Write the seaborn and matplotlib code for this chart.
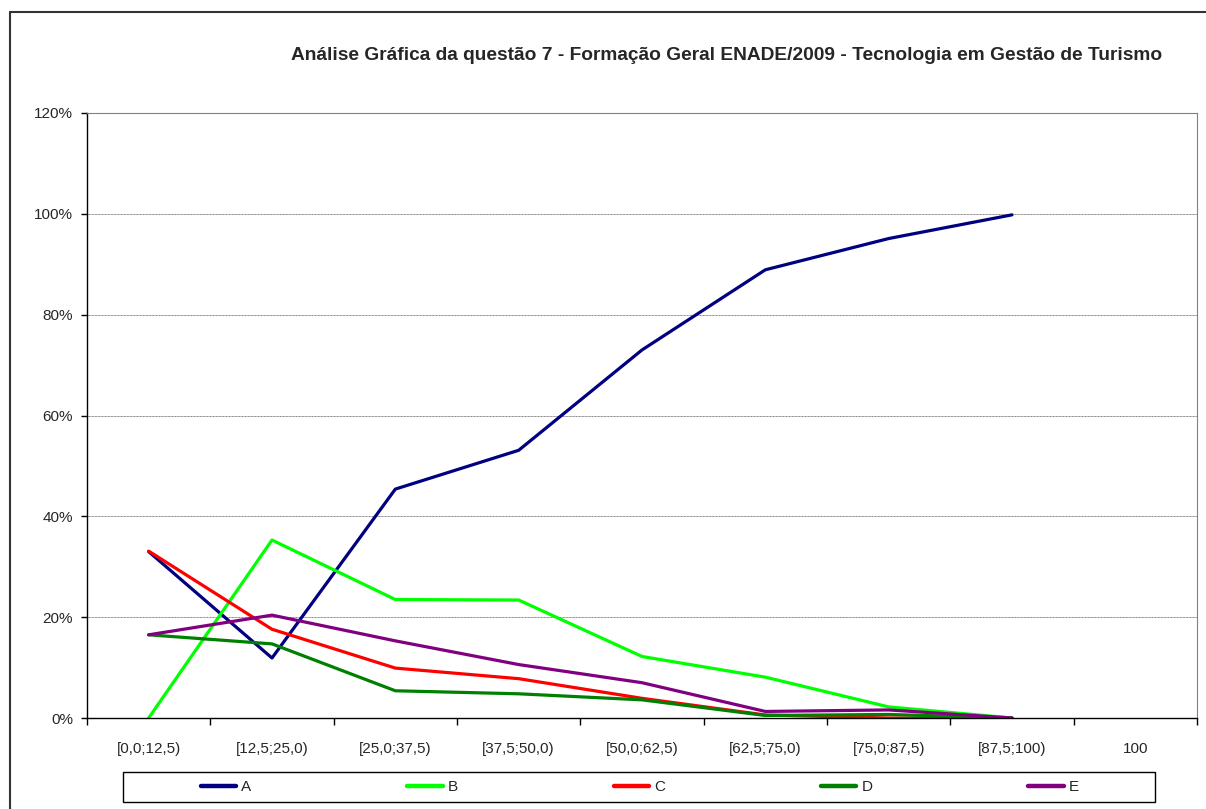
import matplotlib
matplotlib.use("Agg")
import matplotlib.pyplot as plt
from matplotlib.lines import Line2D
from matplotlib.patches import Rectangle
from matplotlib.ticker import FixedLocator, PercentFormatter
import numpy as np
import pandas as pd
import seaborn as sns

# faixas de nota (eixo x)
categorias = ["[0,0;12,5)", "[12,5;25,0)", "[25,0;37,5)", "[37,5;50,0)",
              "[50,0;62,5)", "[62,5;75,0)", "[75,0;87,5)", "[87,5;100)", "100"]

# percentual de respostas por alternativa (a faixa "100" não tem dado)
serie_a = [33.0, 11.9, 45.4, 53.1, 73.0, 88.9, 95.1, 99.8, np.nan]
serie_b = [0.0, 35.3, 23.5, 23.4, 12.2, 8.1, 2.2, 0.0, np.nan]
serie_c = [33.1, 17.6, 9.9, 7.8, 3.9, 0.6, 0.0, 0.0, np.nan]
serie_d = [16.5, 14.7, 5.4, 4.8, 3.6, 0.5, 0.7, 0.0, np.nan]
serie_e = [16.5, 20.4, 15.3, 10.6, 7.0, 1.3, 1.6, 0.0, np.nan]

alternativas = ["A", "B", "C", "D", "E"]
cores = ["#000080", "#00FF00", "#FF0000", "#008000", "#800080"]

titulo = "Análise Gráfica da questão 7 - Formação Geral ENADE/2009 - Tecnologia em Gestão de Turismo"

rows = []
for alt, vals in zip(alternativas, [serie_a, serie_b, serie_c, serie_d, serie_e]):
    for i, v in enumerate(vals):
        if not np.isnan(v):
            rows.append({"pos": i, "valor": v, "alternativa": alt})
df = pd.DataFrame(rows)

sns.set_style("white")
plt.rcParams["font.family"] = ["Liberation Sans", "DejaVu Sans"]

W, H = 1206, 809
fig = plt.figure(figsize=(W / 100, H / 100), dpi=100)
ax = fig.add_axes([87 / W, 1 - 718 / H, 1110 / W, 605 / H])

sns.lineplot(data=df, x="pos", y="valor", hue="alternativa",
             hue_order=alternativas, palette=cores, linewidth=2.3,
             legend=False, ax=ax)

ax.set_xlim(-0.5, len(categorias) - 0.5)
ax.set_ylim(0, 120)
ax.set_xlabel("")
ax.set_ylabel("")

# eixo x: rótulos no centro, marcas nas divisões
ax.set_xticks(np.arange(len(categorias)))
ax.set_xticklabels(categorias, fontsize=11)
ax.xaxis.set_minor_locator(FixedLocator(np.arange(-0.5, len(categorias), 1.0)))
ax.tick_params(axis="x", which="major", length=0, pad=17)
ax.tick_params(axis="x", which="minor", length=5, width=1, color="black",
               direction="out", bottom=True)

ax.set_yticks(np.arange(0, 121, 20))
ax.yaxis.set_major_formatter(PercentFormatter(decimals=0))
ax.tick_params(axis="y", length=4, width=1, color="black", direction="out",
               left=True, labelsize=11, pad=6)

ax.grid(axis="y", color="#808080", linewidth=0.7, linestyle=(0, (1, 0.5)))
ax.set_axisbelow(True)

for s in ["left", "bottom"]:
    ax.spines[s].set_color("black")
    ax.spines[s].set_linewidth(1.0)
for s in ["top", "right"]:
    ax.spines[s].set_color("#808080")
    ax.spines[s].set_linewidth(0.8)

fig.text(727 / W, 1 - 55 / H, titulo, ha="center", va="center",
         fontsize=13.8, fontweight="bold")

# legenda: caixa própria e entradas espaçadas igualmente
fig.add_artist(Rectangle((123 / W, 1 - 802 / H), 1032 / W, 30 / H,
                         transform=fig.transFigure, fill=False,
                         edgecolor="black", linewidth=1.0))
handles = [Line2D([], [], color=c, linewidth=3.2) for c in cores]
fig.legend(handles, alternativas, loc="center", ncol=5,
           bbox_to_anchor=(640 / W, 1 - 787 / H), frameon=False,
           fontsize=11, handlelength=2.3, handletextpad=0.35,
           columnspacing=10.2, borderaxespad=0)

# moldura externa do gráfico
fig.add_artist(Line2D([10 / W, 10 / W], [0, 1 - 12 / H],
                      transform=fig.transFigure, color="#333333", linewidth=1.5))
fig.add_artist(Line2D([10 / W, 1], [1 - 12 / H, 1 - 12 / H],
                      transform=fig.transFigure, color="#333333", linewidth=1.5))

fig.savefig("out.png", dpi=100)
